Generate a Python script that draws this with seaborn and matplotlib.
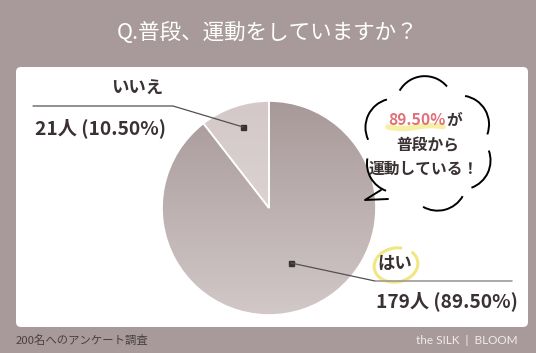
import numpy as np
import matplotlib
matplotlib.use("Agg")
import matplotlib.pyplot as plt
import seaborn as sns
from matplotlib.patches import FancyBboxPatch, Arc, Rectangle
from matplotlib.colors import LinearSegmentedColormap

sns.set_theme(style="white")
plt.rcParams['font.family'] = ['Noto Sans CJK JP', 'DejaVu Sans']

# ---- data ----
categories = ["いいえ", "はい"]
counts = [21, 179]
percents = [10.50, 89.50]
title = "Q.普段、運動をしていますか？"
footer_left = "200名へのアンケート調査"
footer_right = "the SILK  |  BLOOM"
bubble_lines = ["普段から", "運動している！"]

BG = "#a89a9a"
W, H = 536, 353
fig = plt.figure(figsize=(W / 100, H / 100), dpi=100, facecolor=BG)

# overlay axes in pixel coordinates
ov = fig.add_axes([0, 0, 1, 1])
ov.set_xlim(0, W)
ov.set_ylim(H, 0)
ov.axis("off")
ov.patch.set_alpha(0)

# white panel
ov.add_patch(FancyBboxPatch((16, 67), 512, 260, boxstyle="round,pad=0,rounding_size=5",
                            fc="white", ec="none", zorder=1))

# title & footers
ov.text(268, 33, title, ha="center", va="center", color="white", fontsize=15.5, zorder=5)
ov.text(16, 340, footer_left, ha="left", va="center", color="#4a4040", fontsize=8.2, zorder=5)
ov.text(518, 340, footer_right, ha="right", va="center", color="#f2eaea", fontsize=8.5,
        family=['Lato', 'DejaVu Sans'], zorder=5)

# ---- pie ----
cx, cy, R = 269, 208, 107
pax = fig.add_axes([(cx - R) / W, (H - cy - R) / H, 2 * R / W, 2 * R / H])
pax.set_zorder(2)
wedges, _ = pax.pie(counts, startangle=90, counterclock=True,
                    colors=["#dacfcf", "#b4a7a7"],
                    wedgeprops=dict(edgecolor="white", linewidth=1.2))
pax.set_xlim(-1, 1)
pax.set_ylim(-1, 1)
pax.set_aspect("equal")

grads = [("#d4c8c8", "#e4dcdc"), ("#a89999", "#d2c8c8")]
for w, (c_top, c_bot) in zip(wedges, grads):
    cmap = LinearSegmentedColormap.from_list("g", [c_top, c_bot])
    img = pax.imshow(np.linspace(0, 1, 256).reshape(-1, 1), cmap=cmap, aspect="auto",
                     extent=[-1, 1, -1, 1], origin="upper", zorder=w.get_zorder() + 0.1)
    img.set_clip_path(w)
    w.set_facecolor("none")
    w.set_zorder(w.get_zorder() + 0.2)

# ---- leader lines & labels (pixel coords) ----
ov2 = fig.add_axes([0, 0, 1, 1])
ov2.set_xlim(0, W)
ov2.set_ylim(H, 0)
ov2.axis("off")
ov2.patch.set_alpha(0)
ov2.set_zorder(3)

dark = "#3a3232"
# いいえ
ov2.plot([243, 173, 33], [127, 106, 106], color="#555050", lw=0.9)
ov2.add_patch(Rectangle((240.5, 124.5), 5, 5, color=dark))
ov2.text(137, 89, categories[0], ha="center", va="center", fontsize=12.5,
         fontweight="bold", color=dark)
ov2.text(35, 128, f"{counts[0]}人 ({percents[0]:.2f}%)", ha="left", va="center",
         fontsize=13.8, fontweight="bold", color=dark)

# はい
ov2.plot([291, 375], [263, 281], color="#555050", lw=0.9)
ov2.plot([375, 512], [281, 281], color="#a09a9a", lw=1.2)
ov2.add_patch(Rectangle((288.5, 260.5), 5, 5, color=dark))
ov2.add_patch(Arc((396, 265), 44, 34, angle=-10, theta1=-30, theta2=300,
                  color="#f2e680", lw=2.2))
ov2.text(395, 264, categories[1], ha="center", va="center", fontsize=12.5,
         fontweight="bold", color=dark)
ov2.text(376, 301, f"{counts[1]}人 ({percents[1]:.2f}%)", ha="left", va="center",
         fontsize=13.8, fontweight="bold", color=dark)

# ---- speech bubble (cloud) ----
bcx, bcy = 428, 144
lobes = [(95, 55), (155, 50), (210, 40), (285, 45), (335, 45), (30, 50)]
for ang, span in lobes:
    a = np.deg2rad(ang)
    px = bcx + 37 * np.cos(a)
    py = bcy - 39 * np.sin(a)
    ov2.add_patch(Arc((px, py), 58, 58, angle=0, theta1=-(ang + span), theta2=-(ang - span),
                      color="black", lw=1.4))
# tail
ov2.plot([381, 365, 388], [190, 200, 199], color="black", lw=1.4)

ov2.plot(np.linspace(388, 443, 20), 127 + 1.5 * np.sin(np.linspace(0, 6, 20)),
         color="#f6ef9c", lw=4, alpha=0.9, solid_capstyle="round")
ov2.text(446, 120, "89.50%", ha="right", va="center", fontsize=11.3,
         fontweight="bold", color="#e0707a")
ov2.text(446, 120, "が", ha="left", va="center", fontsize=11.3,
         fontweight="bold", color=dark)
ov2.text(428, 145, bubble_lines[0], ha="center", va="center", fontsize=11.3,
         fontweight="bold", color=dark)
ov2.text(424, 169, bubble_lines[1], ha="center", va="center", fontsize=11.3,
         fontweight="bold", color=dark)

fig.savefig("out.png", dpi=100, facecolor=BG)
